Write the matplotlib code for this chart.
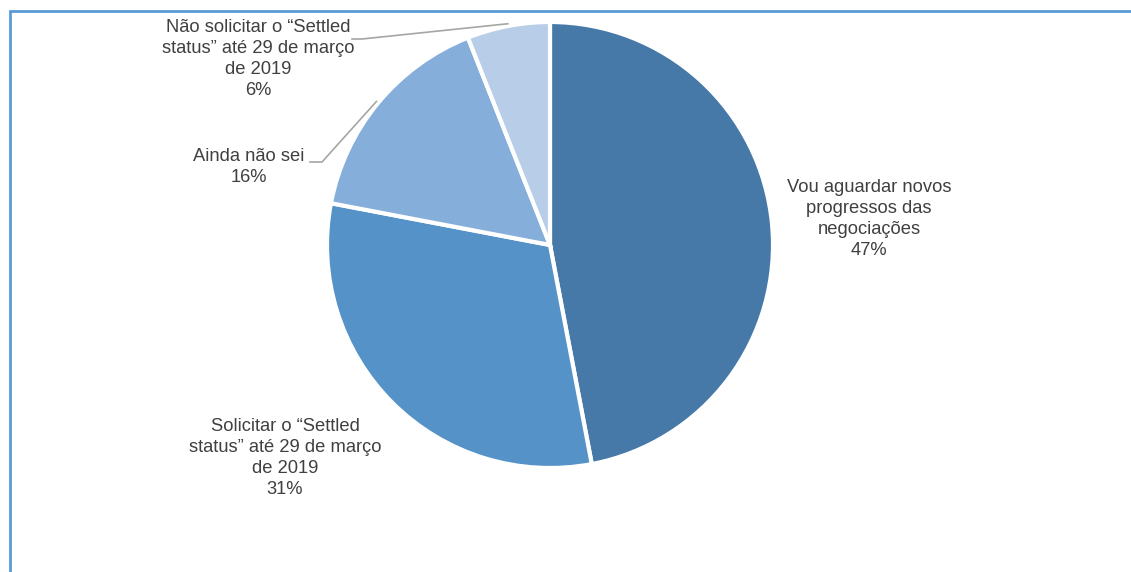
import numpy as np
import matplotlib
matplotlib.use("Agg")
import matplotlib.pyplot as plt

# ---- data ----
categories = [
    "Vou aguardar novos\nprogressos das\nnegociações",
    "Solicitar o “Settled\nstatus” até 29 de março\nde 2019",
    "Ainda não sei",
    "Não solicitar o “Settled\nstatus” até 29 de março\nde 2019",
]
values = [47, 31, 16, 6]
colors = ["#4679A8", "#5592C8", "#85AEDB", "#B8CDE8"]

W, H = 1131, 572
fig = plt.figure(figsize=(W / 100, H / 100), dpi=100)
ax = fig.add_axes([0, 0, 1, 1])

cx, cy, R = 550, H - 245, 223
wedges, _ = ax.pie(values, startangle=90, counterclock=False, colors=colors,
                   center=(cx, cy), radius=R, frame=True,
                   wedgeprops=dict(edgecolor="white", linewidth=3))
ax.set_xlim(0, W)
ax.set_ylim(0, H)
ax.set_aspect("equal")
ax.axis("off")

txt = dict(fontsize=13.2, color="#404040", ha="center", va="center",
           family=["Liberation Sans", "DejaVu Sans"], linespacing=1.31)

# label positions (pixel coords, y from top)
label_pos = [(869, 219), (285, 458), (249, 167), (258, 59)]
for cat, v, (lx, ly) in zip(categories, values, label_pos):
    ax.text(lx, H - ly, f"{cat}\n{v}%", **txt)

# leader lines for small slices
grey = "#A6A6A6"
def mid_angle(w):
    return np.deg2rad((w.theta1 + w.theta2) / 2)

# 16% slice
a = mid_angle(wedges[2])
px, py = cx + R * 1.01 * np.cos(a), cy + R * 1.01 * np.sin(a)
ax.plot([310, 322, px], [H - 162, H - 162, py], color=grey, lw=1.2)
# 6% slice
a = mid_angle(wedges[3])
px, py = cx + R * 1.01 * np.cos(a), cy + R * 1.01 * np.sin(a)
ax.plot([352, 362, px], [H - 39, H - 39, py], color=grey, lw=1.2)

# frame (left and top borders)
frame_c = "#5B9BD5"
ax.plot([9.5, 9.5, W + 5], [-5, H - 11, H - 11], color=frame_c, lw=2,
        solid_joinstyle="miter", clip_on=False)

fig.savefig("out.png", dpi=100)
